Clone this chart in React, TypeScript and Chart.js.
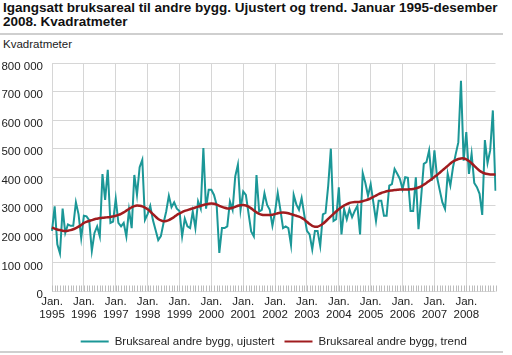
import { useEffect, useRef } from 'react';
import { Chart, registerables } from 'chart.js';

Chart.register(...registerables);

const YEARS = [1995, 1996, 1997, 1998, 1999, 2000, 2001, 2002, 2003, 2004, 2005, 2006, 2007, 2008];
const MONTHS = ['Jan.', 'Feb.', 'Mar.', 'Apr.', 'Mai', 'Jun.', 'Jul.', 'Aug.', 'Sep.', 'Okt.', 'Nov.', 'Des.'];

const SERIES_UJUSTERT = 'Bruksareal andre bygg, ujustert';
const SERIES_TREND = 'Bruksareal andre bygg, trend';

// Kvadratmeter, Jan 1995 - Dec 2008 (one row per year)
const UJUSTERT = [
  212000, 298000, 165000, 133000, 290000, 205000, 235000, 230000, 230000, 312000, 270000, 187000,
  265000, 263000, 250000, 142000, 205000, 228000, 193000, 411000, 321000, 426000, 240000, 245000,
  325000, 240000, 228000, 240000, 193000, 286000, 222000, 408000, 338000, 435000, 461000, 251000,
  271000, 300000, 250000, 215000, 180000, 194000, 240000, 280000, 335000, 295000, 312000, 290000,
  282000, 193000, 255000, 228000, 222000, 280000, 222000, 316000, 290000, 502000, 290000, 356000,
  356000, 338000, 303000, 135000, 222000, 222000, 228000, 315000, 286000, 403000, 444000, 286000,
  350000, 338000, 274000, 210000, 193000, 408000, 280000, 286000, 344000, 303000, 286000, 230000,
  280000, 345000, 286000, 222000, 228000, 222000, 163000, 338000, 305000, 286000, 327000, 268000,
  212000, 200000, 147000, 212000, 212000, 159000, 270000, 275000, 370000, 500000, 247000, 253000,
  365000, 200000, 288000, 253000, 288000, 260000, 282000, 300000, 200000, 415000, 380000, 335000,
  376000, 312000, 247000, 318000, 318000, 265000, 265000, 371000, 376000, 429000, 412000, 394000,
  359000, 400000, 398000, 282000, 282000, 400000, 218000, 330000, 447000, 453000, 494000, 388000,
  494000, 400000, 355000, 312000, 289000, 412000, 371000, 435000, 480000, 522000, 738000, 458000,
  558000, 412000, 482000, 380000, 365000, 342000, 268000, 530000, 450000, 494000, 634000, 353000,
];

const TREND = [
  224000, 220000, 217000, 215000, 213000, 212000, 213000, 215000, 218000, 222000, 227000, 233000,
  240000, 244000, 247000, 250000, 253000, 255000, 257000, 258000, 259000, 260000, 261000, 263000,
  265000, 268000, 272000, 277000, 283000, 289000, 295000, 299000, 301000, 300000, 298000, 294000,
  288000, 280000, 271000, 262000, 254000, 249000, 246000, 247000, 250000, 255000, 261000, 268000,
  273000, 278000, 282000, 285000, 288000, 291000, 294000, 297000, 300000, 303000, 305000, 307000,
  308000, 307000, 304000, 300000, 296000, 293000, 291000, 291000, 293000, 296000, 300000, 302000,
  303000, 301000, 297000, 291000, 284000, 277000, 272000, 269000, 268000, 268000, 268000, 269000,
  271000, 274000, 276000, 277000, 276000, 274000, 271000, 268000, 265000, 262000, 258000, 252000,
  244000, 236000, 230000, 227000, 227000, 231000, 237000, 245000, 254000, 263000, 272000, 280000,
  288000, 295000, 301000, 306000, 310000, 312000, 313000, 313000, 314000, 316000, 319000, 322000,
  326000, 331000, 336000, 341000, 345000, 348000, 351000, 353000, 354000, 355000, 356000, 357000,
  357000, 357000, 357000, 358000, 359000, 361000, 364000, 368000, 374000, 380000, 387000, 394000,
  401000, 408000, 416000, 424000, 432000, 440000, 448000, 455000, 460000, 464000, 466000, 466000,
  463000, 457000, 449000, 440000, 431000, 423000, 417000, 413000, 411000, 410000, 410000, 410000,
];

const Y_MIN = 0;
const Y_MAX = 800000;
const Y_STEP = 100000;

const TEAL = '#1b9797';
const RED = '#a01c1f';
const FONT = '"Liberation Sans", Arial, Helvetica, sans-serif';
const GRID = '#d6d6d6';

const fmt = (v: number) => String(v).replace(/\B(?=(\d{3})+(?!\d))/g, ' ');

const minorTicks = {
  id: 'minorTicks',
  beforeDatasetsDraw(chart: any) {
    const { ctx, chartArea, scales } = chart;
    const xs = scales.x;
    ctx.save();
    ctx.strokeStyle = '#bdbdbd';
    ctx.lineWidth = 1;
    ctx.beginPath();
    for (let i = 0; i < chart.data.labels.length; i++) {
      const x = Math.round(xs.getPixelForValue(i)) + 0.5;
      ctx.moveTo(x, chartArea.bottom - 6);
      ctx.lineTo(x, chartArea.bottom);
    }
    ctx.stroke();
    ctx.restore();
  },
};

const bottomLegend = {
  id: 'bottomLegend',
  afterDraw(chart: any) {
    const { ctx, chartArea } = chart;
    ctx.save();
    ctx.font = `11.5px ${FONT}`;
    ctx.textBaseline = 'middle';
    ctx.textAlign = 'left';
    const lineW = 28;
    const gap = 6;
    const between = 10;
    const items = chart.data.datasets.map((ds: any) => ({
      label: ds.label,
      color: ds.borderColor,
      w: ctx.measureText(ds.label).width,
    }));
    const total =
      items.reduce((s: number, it: any) => s + lineW + gap + it.w, 0) + between * (items.length - 1);
    let x = (chartArea.left + chartArea.right) / 2 - total / 2;
    const y = 341.5;
    items.forEach((it: any) => {
      ctx.strokeStyle = it.color;
      ctx.lineWidth = 2;
      ctx.beginPath();
      ctx.moveTo(x, y);
      ctx.lineTo(x + lineW, y);
      ctx.stroke();
      ctx.fillStyle = '#222';
      ctx.fillText(it.label, x + lineW + gap, y + 0.5);
      x += lineW + gap + it.w + between;
    });
    ctx.restore();
  },
};

export default function App() {
  const canvasRef = useRef<HTMLCanvasElement | null>(null);

  useEffect(() => {
    const canvas = canvasRef.current;
    if (!canvas) return;
    const labels = YEARS.flatMap((y) => MONTHS.map((m) => `${m} ${y}`));
    const chart = new Chart(canvas, {
      type: 'line',
      data: {
        labels,
        datasets: [
          {
            label: SERIES_UJUSTERT,
            data: UJUSTERT,
            borderColor: TEAL,
            backgroundColor: TEAL,
            borderWidth: 2,
            pointRadius: 0,
            tension: 0,
            order: 2,
          },
          {
            label: SERIES_TREND,
            data: TREND,
            borderColor: RED,
            backgroundColor: RED,
            borderWidth: 2.5,
            pointRadius: 0,
            tension: 0.3,
            order: 1,
          },
        ],
      },
      options: {
        responsive: false,
        animation: false,
        devicePixelRatio: 1,
        layout: { padding: { left: 0, right: 16.5, top: 63, bottom: 23.5 } },
        plugins: {
          legend: { display: false },
          tooltip: { enabled: false },
          title: { display: false },
        },
        scales: {
          x: {
            type: 'category',
            offset: false,
            border: { display: false },
            grid: {
              color: (c: any) => (c.index % 12 === 0 ? GRID : 'rgba(0,0,0,0)'),
              lineWidth: 1,
              drawTicks: false,
            },
            ticks: {
              autoSkip: false,
              maxRotation: 0,
              minRotation: 0,
              padding: 3,
              color: '#222',
              font: { family: FONT, size: 11.5, lineHeight: 1.2 },
              callback: (_v: any, i: number) =>
                i % 12 === 0 ? [MONTHS[0], String(YEARS[Math.floor(i / 12)])] : '',
            },
            afterFit: (s: any) => {
              s.height = 40;
            },
          },
          y: {
            min: Y_MIN,
            max: Y_MAX,
            border: { display: false },
            grid: { color: GRID, lineWidth: 1, drawTicks: false },
            ticks: {
              stepSize: Y_STEP,
              padding: 9,
              labelOffset: 3.5,
              color: '#222',
              font: { family: FONT, size: 11.5 },
              callback: (v: any) => fmt(Number(v)),
            },
            afterFit: (s: any) => {
              s.width = 52;
            },
          },
        },
      },
      plugins: [minorTicks, bottomLegend],
    });
    return () => chart.destroy();
  }, []);

  return (
    <div
      style={{
        position: 'fixed',
        left: 0,
        top: 0,
        width: 512,
        height: 355,
        overflow: 'hidden',
        background: '#fff',
        fontFamily: FONT,
      }}
    >
      <div
        style={{
          position: 'absolute',
          left: 3,
          top: 0.7,
          fontSize: 13.5,
          fontWeight: 'bold',
          lineHeight: '14.5px',
          color: '#111',
          whiteSpace: 'nowrap',
        }}
      >
        <div>Igangsatt bruksareal til andre bygg. Ujustert og trend. Januar 1995-desember</div>
        <div>2008. Kvadratmeter</div>
      </div>
      <div style={{ position: 'absolute', left: 0, top: 33, width: 503, height: 2, background: '#cfcfcf' }} />
      <div
        style={{
          position: 'absolute',
          left: 3,
          top: 39,
          fontSize: 11.5,
          lineHeight: '11.5px',
          color: '#222',
          whiteSpace: 'nowrap',
        }}
      >
        Kvadratmeter
      </div>
      <canvas
        ref={canvasRef}
        width={512}
        height={355}
        style={{ position: 'absolute', left: 0, top: 0, width: 512, height: 355 }}
      />
      <div style={{ position: 'absolute', left: 0, top: 351, width: 503, height: 2, background: '#cfcfcf' }} />
    </div>
  );
}
